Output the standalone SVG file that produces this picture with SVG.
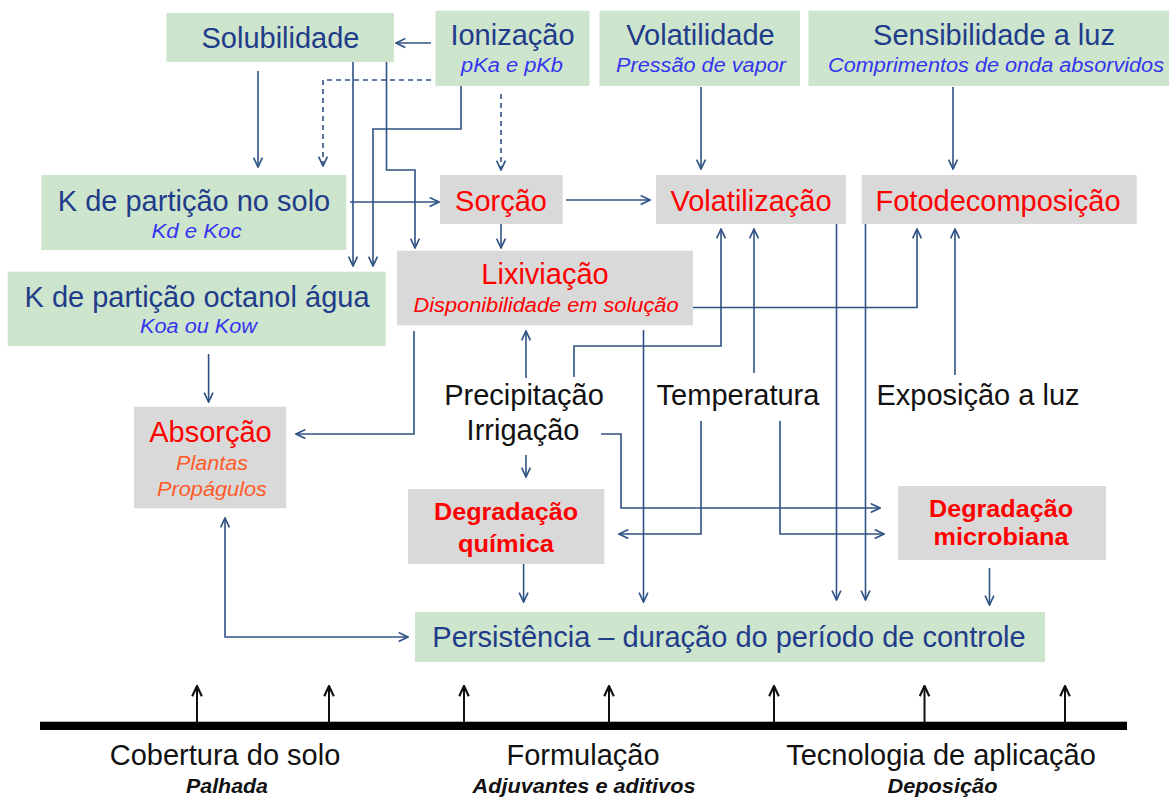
<svg xmlns="http://www.w3.org/2000/svg" width="1169" height="799" viewBox="0 0 1169 799">
<style>
.g{fill:#cde4cd}
.r{fill:#d9d9d9}
.t{font-family:"Liberation Sans",Arial,sans-serif;font-size:29px;text-anchor:middle}
.b{fill:#1f3c8a}
.k{fill:#111}
.red{fill:#ff0000}
.s{font-family:"Liberation Sans",Arial,sans-serif;font-size:19.5px;font-style:italic;text-anchor:middle}
.sb{fill:#3535ee}
.so{fill:#ff5a28}
.bd{font-family:"Liberation Sans",Arial,sans-serif;font-size:23px;font-weight:bold;text-anchor:middle;fill:#ff0000}
.bi{font-family:"Liberation Sans",Arial,sans-serif;font-size:19.5px;font-weight:bold;font-style:italic;text-anchor:middle;fill:#111}
.c{fill:none;stroke:#2f5284;stroke-width:1.6}
.d{stroke-dasharray:5,4}
.ba{fill:none;stroke:#111;stroke-width:2}
</style>
<defs>
<marker id="a" viewBox="0 0 10 10" refX="9.5" refY="5" markerWidth="11" markerHeight="11" markerUnits="userSpaceOnUse" orient="auto-start-reverse">
<path d="M1,1 L9.5,5 L1,9" fill="none" stroke="#2f5284" stroke-width="1.5"/>
</marker>
<marker id="ak" viewBox="0 0 10 10" refX="9.5" refY="5" markerWidth="12" markerHeight="12" markerUnits="userSpaceOnUse" orient="auto">
<path d="M1,1 L9.5,5 L1,9" fill="none" stroke="#111" stroke-width="1.8"/>
</marker>
</defs>
<rect width="1169" height="799" fill="#fff"/>

<g id="connectors">
<path class="c" d="M431,43 H396" marker-end="url(#a)"/>
<path class="c d" d="M431,80 H323 V166" marker-end="url(#a)"/>
<path class="c d" d="M501,94 V170" marker-end="url(#a)"/>
<path class="c" d="M258,71 V167" marker-end="url(#a)"/>
<path class="c" d="M353,62 V266" marker-end="url(#a)"/>
<path class="c" d="M386.5,62 V170 H415 V248" marker-end="url(#a)"/>
<path class="c" d="M461,86 V129 H373 V266" marker-end="url(#a)"/>
<path class="c" d="M350,202 H439" marker-end="url(#a)"/>
<path class="c" d="M501,224 V248" marker-end="url(#a)"/>
<path class="c" d="M566,200 H650" marker-end="url(#a)"/>
<path class="c" d="M701,87 V169" marker-end="url(#a)"/>
<path class="c" d="M953,87 V169" marker-end="url(#a)"/>
<path class="c" d="M690,307.5 H917 V229" marker-end="url(#a)"/>
<path class="c" d="M526,378 V331" marker-end="url(#a)"/>
<path class="c" d="M574,377 V346 H721 V229" marker-end="url(#a)"/>
<path class="c" d="M754,373 V229" marker-end="url(#a)"/>
<path class="c" d="M955,375 V229" marker-end="url(#a)"/>
<path class="c" d="M414,331 V434 H296" marker-end="url(#a)"/>
<path class="c" d="M643.5,330 V602" marker-end="url(#a)"/>
<path class="c" d="M836.5,224 V600" marker-end="url(#a)"/>
<path class="c" d="M865.5,224 V600" marker-end="url(#a)"/>
<path class="c" d="M601,434 H621 V508 H880" marker-end="url(#a)"/>
<path class="c" d="M701,421 V534 H619" marker-end="url(#a)"/>
<path class="c" d="M780,421 V534 H884" marker-end="url(#a)"/>
<path class="c" d="M526,455 V477" marker-end="url(#a)"/>
<path class="c" d="M523.6,564 V602" marker-end="url(#a)"/>
<path class="c" d="M989.5,568 V605" marker-end="url(#a)"/>
<path class="c" d="M225,518 V637 H408" marker-start="url(#a)" marker-end="url(#a)"/>
<path class="c" d="M208.6,354 V402" marker-end="url(#a)"/>
</g>

<g id="solubilidade">
<rect class="g" x="166.5" y="13" width="227.5" height="49"/>
<text class="t b" x="280.5" y="48">Solubilidade</text>
</g>
<g id="ionizacao">
<rect class="g" x="435.5" y="10.7" width="154" height="75.3"/>
<text class="t b" x="512.5" y="45">Ionização</text>
<text class="s sb" x="512" y="72" textLength="102" lengthAdjust="spacingAndGlyphs">pKa e pKb</text>
</g>
<g id="volatilidade">
<rect class="g" x="599.5" y="10.7" width="200.5" height="75.3"/>
<text class="t b" x="700.5" y="45">Volatilidade</text>
<text class="s sb" x="701" y="72" textLength="170" lengthAdjust="spacingAndGlyphs">Pressão de vapor</text>
</g>
<g id="sensibilidade">
<rect class="g" x="808.4" y="10.7" width="360.6" height="75.3"/>
<text class="t b" x="994" y="45">Sensibilidade a luz</text>
<text class="s sb" x="996" y="72" textLength="336" lengthAdjust="spacingAndGlyphs">Comprimentos de onda absorvidos</text>
</g>
<g id="k-solo">
<rect class="g" x="41.3" y="175" width="305" height="75"/>
<text class="t b" x="194" y="211">K de partição no solo</text>
<text class="s sb" x="196.5" y="238" textLength="90" lengthAdjust="spacingAndGlyphs">Kd e Koc</text>
</g>
<g id="k-octanol">
<rect class="g" x="7.7" y="271.7" width="378" height="74.3"/>
<text class="t b" x="197" y="306.5">K de partição octanol água</text>
<text class="s sb" x="198.5" y="333.3" textLength="117" lengthAdjust="spacingAndGlyphs">Koa ou Kow</text>
</g>
<g id="sorcao">
<rect class="r" x="440" y="175" width="122.6" height="49"/>
<text class="t red" x="501" y="211">Sorção</text>
</g>
<g id="volatilizacao">
<rect class="r" x="656" y="175" width="190" height="49"/>
<text class="t red" x="751" y="211">Volatilização</text>
</g>
<g id="fotodecomposicao">
<rect class="r" x="861.7" y="175" width="275" height="49"/>
<text class="t red" x="998" y="211">Fotodecomposição</text>
</g>
<g id="lixiviacao">
<rect class="r" x="397" y="250.7" width="296" height="74.6"/>
<text class="t red" x="545" y="284">Lixiviação</text>
<text class="s red" x="546" y="311.5" textLength="265" lengthAdjust="spacingAndGlyphs">Disponibilidade em solução</text>
</g>
<g id="absorcao">
<rect class="r" x="134" y="406.7" width="152.3" height="101.6"/>
<text class="t red" x="210.5" y="441.5">Absorção</text>
<text class="s so" x="212" y="470" textLength="72" lengthAdjust="spacingAndGlyphs">Plantas</text>
<text class="s so" x="212" y="496" textLength="110" lengthAdjust="spacingAndGlyphs">Propágulos</text>
</g>
<g id="degradacao-quimica">
<rect class="r" x="408" y="489" width="196.3" height="75"/>
<text class="bd" x="506" y="520" textLength="144" lengthAdjust="spacingAndGlyphs">Degradação</text>
<text class="bd" x="506" y="551.5" textLength="96" lengthAdjust="spacingAndGlyphs">química</text>
</g>
<g id="degradacao-microbiana">
<rect class="r" x="898" y="486" width="208" height="74"/>
<text class="bd" x="1001" y="516.5" textLength="144" lengthAdjust="spacingAndGlyphs">Degradação</text>
<text class="bd" x="1001" y="545" textLength="135" lengthAdjust="spacingAndGlyphs">microbiana</text>
</g>
<g id="persistencia">
<rect class="g" x="415" y="612" width="630" height="50"/>
<text class="t b" x="729" y="646.5">Persistência – duração do período de controle</text>
</g>
<g id="precipitacao">
<text class="t k" x="524" y="405">Precipitação</text>
<text class="t k" x="523" y="440">Irrigação</text>
</g>
<g id="temperatura">
<text class="t k" x="738" y="405">Temperatura</text>
</g>
<g id="exposicao">
<text class="t k" x="978" y="405">Exposição a luz</text>
</g>

<g id="base">
<rect x="40" y="721.7" width="1087" height="8.3" fill="#000"/>
<path class="ba" d="M197,722 V686" marker-end="url(#ak)"/>
<path class="ba" d="M329,722 V686" marker-end="url(#ak)"/>
<path class="ba" d="M464,722 V686" marker-end="url(#ak)"/>
<path class="ba" d="M609,722 V686" marker-end="url(#ak)"/>
<path class="ba" d="M774,722 V686" marker-end="url(#ak)"/>
<path class="ba" d="M924.5,722 V686" marker-end="url(#ak)"/>
<path class="ba" d="M1065,722 V686" marker-end="url(#ak)"/>
</g>
<g id="cobertura">
<text class="t k" x="225" y="765">Cobertura do solo</text>
<text class="bi" x="227" y="793" textLength="82" lengthAdjust="spacingAndGlyphs">Palhada</text>
</g>
<g id="formulacao">
<text class="t k" x="583" y="765">Formulação</text>
<text class="bi" x="584" y="793" textLength="223" lengthAdjust="spacingAndGlyphs">Adjuvantes e aditivos</text>
</g>
<g id="tecnologia">
<text class="t k" x="941" y="765">Tecnologia de aplicação</text>
<text class="bi" x="942.5" y="793" textLength="110" lengthAdjust="spacingAndGlyphs">Deposição</text>
</g>
</svg>
